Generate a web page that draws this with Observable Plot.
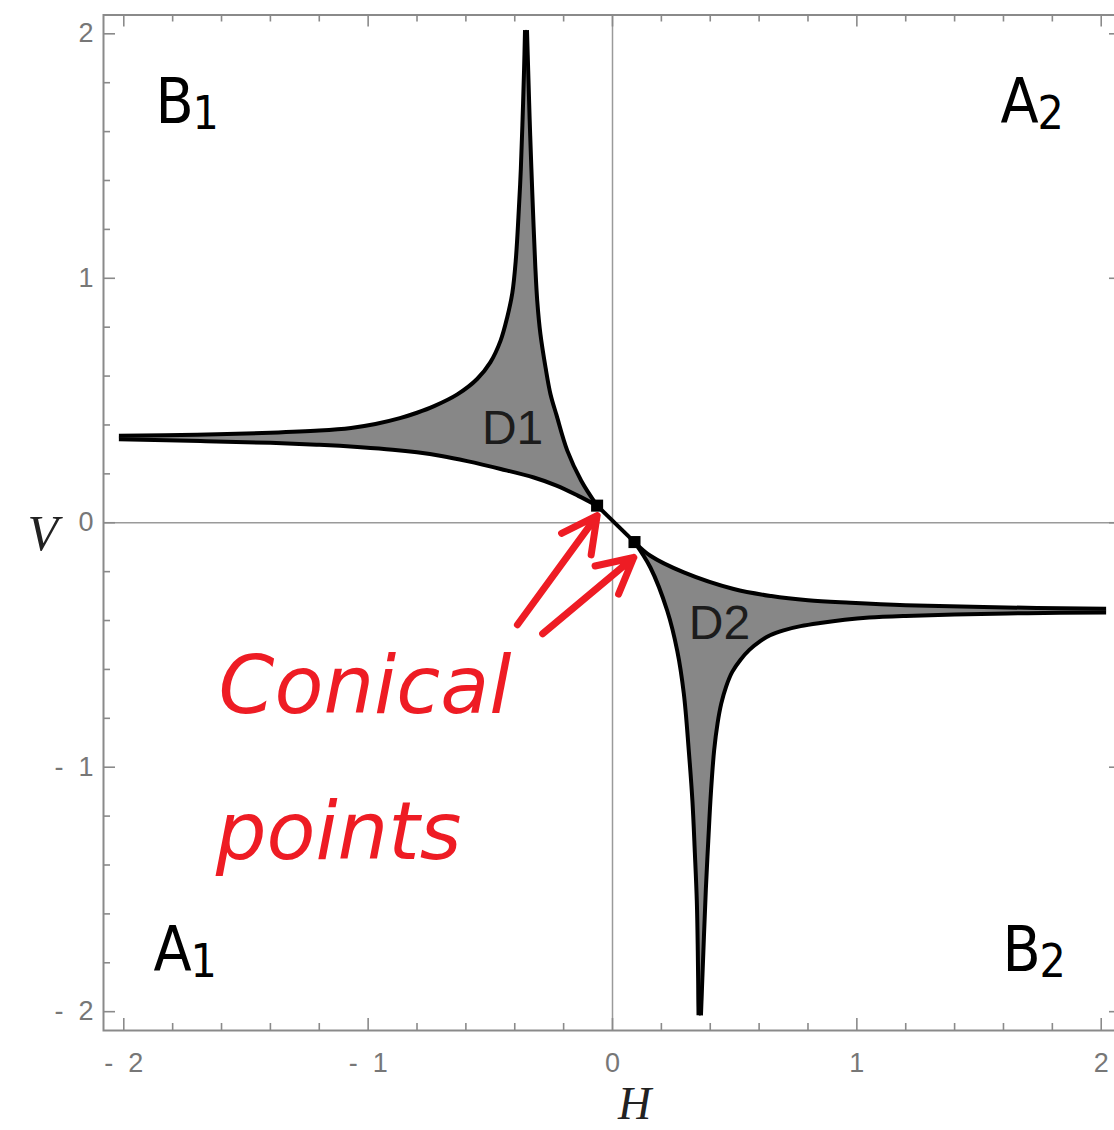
<!DOCTYPE html>
<html>
<head>
<meta charset="utf-8">
<script src="https://cdn.jsdelivr.net/npm/d3@7"></script>
<script src="https://cdn.jsdelivr.net/npm/@observablehq/plot@0.6"></script>
<style>
  html, body { margin: 0; padding: 0; background: #fff; overflow: hidden; }
  #chart { width: 1114px; height: 1130px; overflow: hidden; }
  #chart svg { max-width: none !important; }
</style>
</head>
<body>
<div id="chart"></div>
<script>
// Boundaries of the two degeneracy regions in the (H, V) plane, as [H, V] pairs.
// D1: outer edge (left arm top -> vertical arm left side)
const d1Outer = [
  [-2.02, 0.356], [-1.7, 0.36], [-1.4, 0.368], [-1.2, 0.377], [-1.07, 0.388],
  [-0.97, 0.404], [-0.87, 0.428], [-0.8, 0.45], [-0.73, 0.477], [-0.635, 0.525],
  [-0.554, 0.588], [-0.5, 0.656], [-0.458, 0.745], [-0.431, 0.84], [-0.41, 0.94],
  [-0.396, 1.072], [-0.385, 1.25], [-0.375, 1.45], [-0.368, 1.65], [-0.362, 1.85],
  [-0.358, 2.015]
];
// D1: inner edge, vertical arm right side down to the conical point
const d1InnerUp = [
  [-0.35, 2.015], [-0.345, 1.85], [-0.339, 1.65], [-0.332, 1.45], [-0.324, 1.24],
  [-0.316, 1.05], [-0.308, 0.908], [-0.295, 0.772], [-0.274, 0.635], [-0.254, 0.527],
  [-0.229, 0.44], [-0.185, 0.295], [-0.128, 0.172], [-0.063, 0.07]
];
// D1: inner edge, conical point out along the lower side of the left arm
const d1InnerLeft = [
  [-0.063, 0.07], [-0.14, 0.11], [-0.229, 0.152], [-0.322, 0.185], [-0.458, 0.22],
  [-0.595, 0.252], [-0.7, 0.273], [-0.8, 0.288], [-0.9, 0.299], [-1.03, 0.309],
  [-1.2, 0.319], [-1.4, 0.327], [-1.686, 0.334], [-2.02, 0.342]
];
// D2: outer edge (right arm bottom -> down arm right side)
const d2Outer = [
  [2.02, -0.367], [1.7, -0.37], [1.4, -0.375], [1.2, -0.381], [1.05, -0.388],
  [0.95, -0.397], [0.85, -0.41], [0.77, -0.423], [0.7, -0.44], [0.645, -0.46],
  [0.606, -0.483], [0.56, -0.52], [0.524, -0.56], [0.49, -0.61], [0.465, -0.67],
  [0.445, -0.74], [0.43, -0.82], [0.416, -0.93], [0.403, -1.1], [0.392, -1.3],
  [0.382, -1.5], [0.372, -1.75], [0.362, -2.015]
];
// D2: inner edge, down arm left side up to the conical point
const d2InnerDown = [
  [0.352, -2.015], [0.349, -1.75], [0.345, -1.546], [0.337, -1.35], [0.327, -1.137],
  [0.312, -0.93], [0.292, -0.7], [0.265, -0.524], [0.224, -0.36], [0.155, -0.183],
  [0.09, -0.079]
];
// D2: inner edge, conical point out along the upper side of the right arm
const d2InnerRight = [
  [0.09, -0.079], [0.155, -0.135], [0.292, -0.203], [0.496, -0.271], [0.65, -0.3],
  [0.8, -0.317], [0.974, -0.327], [1.2, -0.337], [1.518, -0.345], [2.02, -0.352]
];

// Conical points
const conicalH = [-0.063, 0.09];
const conicalV = [0.07, -0.079];

// Region and quadrant labels
const regionNames = ["D1", "D2"];
const regionH = [-0.409, 0.438];
const regionV = [0.385, -0.413];

const quadLetters = ["B", "A", "A", "B"];
const quadSubs = ["1", "2", "1", "2"];
const quadH = [-1.87, 1.588, -1.878, 1.596];
const quadV = [1.637, 1.637, -1.833, -1.833];

// Annotation text and arrows
const noteLines = ["Conical", "points"];
const noteH = [-1.612, -1.624];
const noteV = [-0.777, -1.375];
const arrowTailH = [-0.389, -0.286];
const arrowTailV = [-0.417, -0.454];
const arrowTipH = [-0.063, 0.087];
const arrowTipV = [0.029, -0.142];

// Frame ticks
const majorTicks = [-2, -1, 0, 1, 2];
const minorTicks = [-1.8, -1.6, -1.4, -1.2, -0.8, -0.6, -0.4, -0.2,
                    0.2, 0.4, 0.6, 0.8, 1.2, 1.4, 1.6, 1.8];

// Layout
const width = 1125, height = 1130;
const mTop = 14.5, mRight = 4, mBottom = 100, mLeft = 103;
const innerW = width - mLeft - mRight;
const innerH = height - mTop - mBottom;
const majorLen = 12, minorLen = 7;

const toRows = (name, pts) => pts.map(([h, v]) => ({name, h, v}));
const fillRows = [
  ...toRows("D1", [...d1Outer, ...d1InnerUp, ...d1InnerLeft]),
  ...toRows("D2", [...d2Outer, ...d2InnerDown, ...d2InnerRight])
];
const edgeRows = [
  ...toRows("d1o", d1Outer), ...toRows("d1u", d1InnerUp), ...toRows("d1l", d1InnerLeft),
  ...toRows("d2o", d2Outer), ...toRows("d2d", d2InnerDown), ...toRows("d2r", d2InnerRight),
  ...toRows("link", conicalH.map((h, i) => [h, conicalV[i]]))
];

const tickFmt = d => d < 0 ? "-  " + Math.abs(d) : String(d);
const frameGray = "#8a8a8a";
const red = "#ee1c24";
const ident = d => d;
const labelFont = "'Liberation Sans Narrow', 'DejaVu Sans Condensed', 'Liberation Sans', sans-serif";

const chart = Plot.plot({
  width, height,
  marginTop: mTop, marginRight: mRight, marginBottom: mBottom, marginLeft: mLeft,
  x: {domain: [-2.083, 2.083], axis: null},
  y: {domain: [-2.077, 2.077], axis: null},
  style: {background: "#fff", fontFamily: "'Liberation Sans', Arial, sans-serif"},
  marks: [
    // zero lines
    Plot.ruleX([0], {stroke: "#9a9a9a", strokeWidth: 1.5}),
    Plot.ruleY([0], {stroke: "#9a9a9a", strokeWidth: 1.5}),

    // shaded regions
    Plot.line(fillRows, {x: "h", y: "v", z: "name", fill: "#878787", stroke: "none", curve: "catmull-rom"}),
    Plot.line(edgeRows, {x: "h", y: "v", z: "name", stroke: "#000", strokeWidth: 4,
                         strokeLinecap: "butt", curve: "catmull-rom"}),

    // frame with inward ticks on all four sides
    Plot.frame({stroke: frameGray, strokeWidth: 2}),
    Plot.ruleX(majorTicks, {x: ident, insetTop: innerH - majorLen, stroke: frameGray, strokeWidth: 1.6}),
    Plot.ruleX(majorTicks, {x: ident, insetBottom: innerH - majorLen, stroke: frameGray, strokeWidth: 1.6}),
    Plot.ruleX(minorTicks, {x: ident, insetTop: innerH - minorLen, stroke: frameGray, strokeWidth: 1.6}),
    Plot.ruleX(minorTicks, {x: ident, insetBottom: innerH - minorLen, stroke: frameGray, strokeWidth: 1.6}),
    Plot.ruleY(majorTicks, {y: ident, insetRight: innerW - majorLen, stroke: frameGray, strokeWidth: 1.6}),
    Plot.ruleY(majorTicks, {y: ident, insetLeft: innerW - majorLen, stroke: frameGray, strokeWidth: 1.6}),
    Plot.ruleY(minorTicks, {y: ident, insetRight: innerW - minorLen, stroke: frameGray, strokeWidth: 1.6}),
    Plot.ruleY(minorTicks, {y: ident, insetLeft: innerW - minorLen, stroke: frameGray, strokeWidth: 1.6}),

    // tick labels
    Plot.axisX(majorTicks, {anchor: "bottom", tickSize: 0, tickPadding: 22, tickFormat: tickFmt,
                            fontSize: 27, color: "#777", label: null}),
    Plot.axisY(majorTicks, {anchor: "left", tickSize: 0, tickPadding: 10, tickFormat: tickFmt,
                            fontSize: 27, color: "#777", label: null}),

    // axis titles
    Plot.text(["H"], {frameAnchor: "bottom", dx: 22, dy: 74, lineAnchor: "middle", fontSize: 46,
                      fontFamily: "'Liberation Serif', 'DejaVu Serif', serif", fontStyle: "italic", fill: "#222"}),
    Plot.text(["V"], {frameAnchor: "left", dx: -76, dy: 11, lineAnchor: "middle", fontSize: 50,
                      fontFamily: "'Liberation Serif', 'DejaVu Serif', serif", fontStyle: "italic", fill: "#222"}),

    // quadrant labels with subscripts
    Plot.text(quadLetters, {x: (d, i) => quadH[i], y: (d, i) => quadV[i], text: ident,
                            textAnchor: "start", lineAnchor: "bottom", fontSize: 62, fill: "#000",
                            fontFamily: labelFont}),
    Plot.text(quadSubs, {x: (d, i) => quadH[i], y: (d, i) => quadV[i], text: ident,
                         dx: 37, dy: 6, textAnchor: "start", lineAnchor: "bottom", fontSize: 46, fill: "#000",
                         fontFamily: labelFont}),

    // region labels
    Plot.text(regionNames, {x: (d, i) => regionH[i], y: (d, i) => regionV[i], text: ident,
                            lineAnchor: "middle", fontSize: 48, fill: "#1c1c1c"}),

    // conical points
    Plot.dot(conicalH, {x: ident, y: (d, i) => conicalV[i], symbol: "square", r: 6.8, fill: "#000", stroke: "none"}),

    // annotation
    Plot.arrow(arrowTailH, {x1: ident, y1: (d, i) => arrowTailV[i], x2: (d, i) => arrowTipH[i], y2: (d, i) => arrowTipV[i],
                            stroke: red, strokeWidth: 7, headLength: 8.5, headAngle: 55,
                            strokeLinecap: "round", strokeLinejoin: "round"}),
    Plot.text(noteLines, {x: (d, i) => noteH[i], y: (d, i) => noteV[i], text: ident,
                          textAnchor: "start", lineAnchor: "bottom", fontSize: 80, fill: red,
                          fontFamily: "'DejaVu Sans', sans-serif", fontStyle: "italic"})
  ]
});

chart.style.maxWidth = "none";
chart.style.width = width + "px";
chart.style.height = height + "px";
document.getElementById("chart").appendChild(chart);
</script>
</body>
</html>
